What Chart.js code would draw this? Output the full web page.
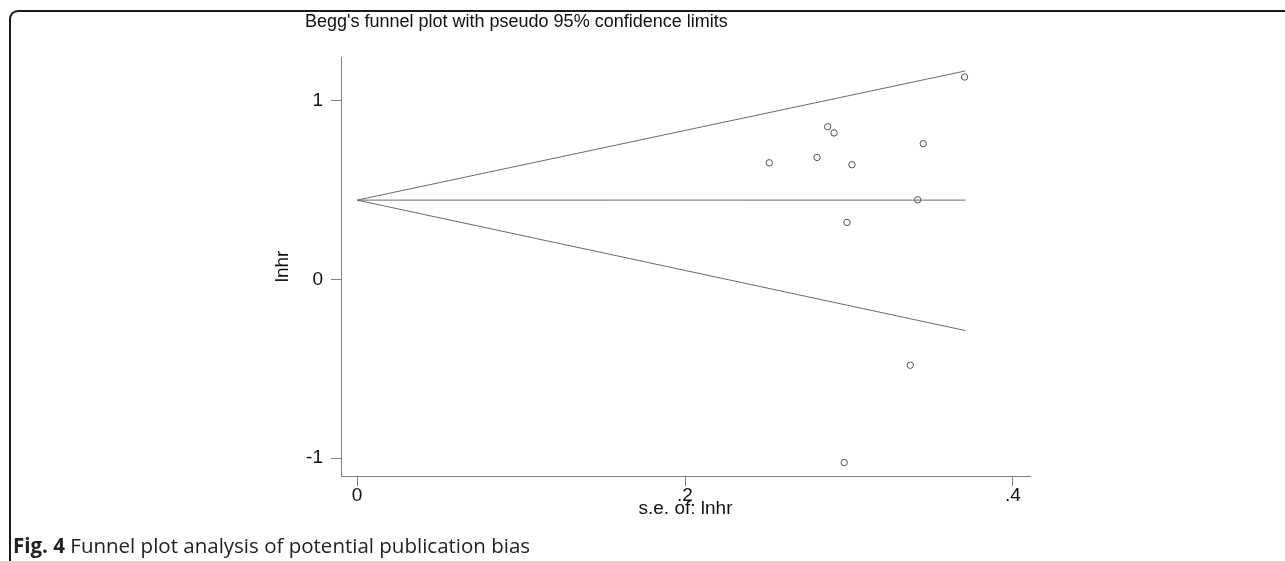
<!DOCTYPE html>
<html>
<head>
<meta charset="utf-8">
<script src="https://cdn.jsdelivr.net/npm/chart.js@4"></script>
<style>
  html, body { margin:0; padding:0; background:#fff; }
  body { width:1285px; height:561px; position:relative; overflow:hidden; }
  #frame { position:absolute; left:9px; top:10px; width:1400px; height:700px;
           border-left:2px solid #1a1a1a; border-top:2px solid #1a1a1a;
           border-top-left-radius:9px; box-sizing:border-box; }
  #wrap { position:absolute; left:0; top:0; width:1285px; height:561px; }
  #title { position:absolute; left:305px; top:11px; font-family:"Liberation Sans", Arial, sans-serif;
           font-size:18px; color:#111; white-space:nowrap; }
  #caption { position:absolute; left:13px; top:531px; font-family:"Open Sans", sans-serif;
             font-size:20.5px; color:#222; white-space:nowrap; }
  #caption b { font-weight:700; }
</style>
</head>
<body>
<div id="frame"></div>
<div id="wrap"><canvas id="c" width="1285" height="561"></canvas></div>
<div id="title">Begg's funnel plot with pseudo 95% confidence limits</div>
<div id="caption"><b>Fig. 4</b> Funnel plot analysis of potential publication bias</div>
<script>
// Study estimates (standard error of lnHR, lnHR)
const seValues   = [0.3705, 0.2870, 0.2909, 0.3453, 0.2514, 0.2805, 0.3018, 0.3419, 0.2988, 0.3374, 0.2971];
const lnhrValues = [1.133, 0.855, 0.820, 0.760, 0.653, 0.683, 0.642, 0.446, 0.319, -0.480, -1.025];

// Pseudo 95% confidence limit lines (endpoints)
const funnelSe    = [0, 0.371];
const pooledLine  = [0.444, 0.444];
const upperLimit  = [0.444, 1.167];
const lowerLimit  = [0.444, -0.286];

// Axis ticks
const xTicks = [0, 0.2, 0.4];
const xTickLabels = ["0", ".2", ".4"];
const yTicks = [-1, 0, 1];
const yTickLabels = ["-1", "0", "1"];

const pts = seValues.map((s, i) => ({x: s, y: lnhrValues[i]}));
const mk = ys => funnelSe.map((s, i) => ({x: s, y: ys[i]}));

const lineStyle = {showLine:true, pointRadius:0, borderColor:'#6a6a6a', borderWidth:1, fill:false, tension:0};
const fontAx = {family:'"Liberation Sans", Arial, sans-serif', size:19};

new Chart(document.getElementById('c'), {
  type: 'scatter',
  data: {
    datasets: [
      Object.assign({data: mk(upperLimit)}, lineStyle),
      Object.assign({data: mk(pooledLine)}, lineStyle),
      Object.assign({data: mk(lowerLimit)}, lineStyle),
      { data: pts, pointRadius:3.2, pointBorderWidth:1, pointBorderColor:'#505050',
        pointBackgroundColor:'rgba(255,255,255,0)', showLine:false }
    ]
  },
  options: {
    responsive:false, animation:false,
    layout: { padding: {left:267, right:255, top:57, bottom:37} },
    plugins: { legend:{display:false}, tooltip:{enabled:false}, title:{display:false} },
    scales: {
      x: {
        type:'linear', min:-0.0098, max:0.4104,
        afterBuildTicks: s => { s.ticks = xTicks.map(v => ({value:v})); },
        afterFit: s => { s.height = 48; },
        ticks: { callback: (v) => xTickLabels[xTicks.indexOf(v)] ?? '', color:'#111', font:fontAx, padding:-2, maxRotation:0, autoSkip:false },
        grid: { drawOnChartArea:false, drawTicks:true, tickLength:10, color:'#808080', lineWidth:1 },
        border: { display:true, color:'#808080', width:1 },
        title: { display:true, text:'s.e. of: lnhr', color:'#111', font:fontAx, padding:{top:0,bottom:4} }
      },
      y: {
        type:'linear', min:-1.10, max:1.245,
        afterBuildTicks: s => { s.ticks = yTicks.map(v => ({value:v})); },
        afterFit: s => { s.width = 74; },
        ticks: { callback: (v) => yTickLabels[yTicks.indexOf(v)] ?? '', color:'#111', font:fontAx, padding:8, autoSkip:false },
        grid: { drawOnChartArea:false, drawTicks:true, tickLength:10, color:'#808080', lineWidth:1 },
        border: { display:true, color:'#808080', width:1 },
        title: { display:true, text:'lnhr', color:'#111', font:fontAx, padding:{top:4,bottom:0} }
      }
    }
  }
});
</script>
</body>
</html>
